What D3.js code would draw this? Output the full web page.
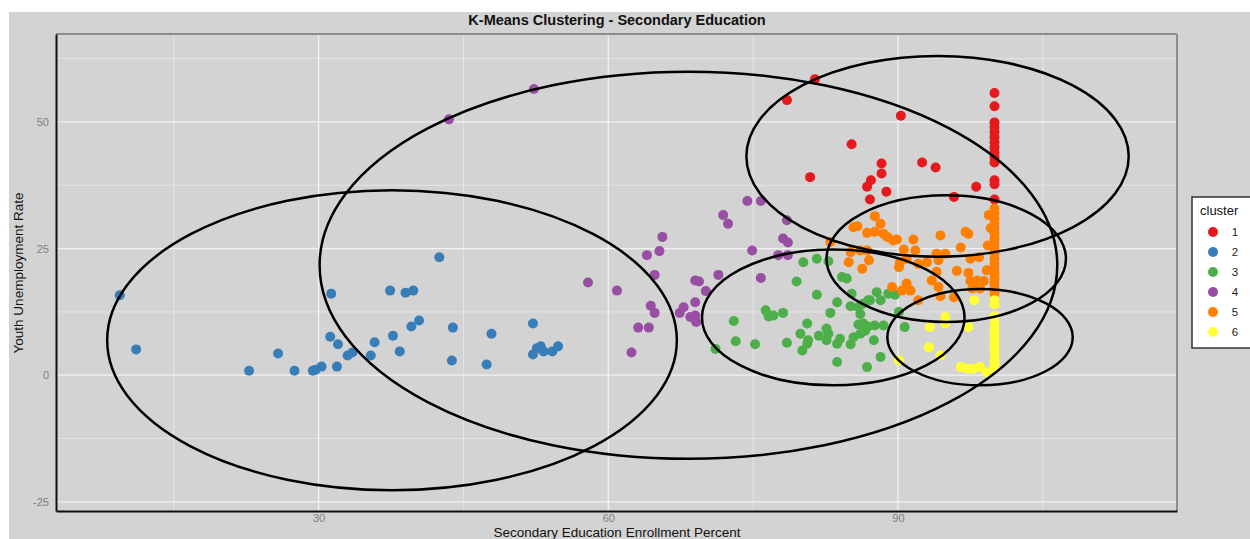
<!DOCTYPE html>
<html>
<head>
<meta charset="utf-8">
<script src="https://cdn.jsdelivr.net/npm/d3@7"></script>
<style>
  body { margin: 0; background: #ffffff; }
  svg { display: block; font-family: "Liberation Sans", Arial, sans-serif; }
</style>
</head>
<body>
<div id="graph"></div>
<script>
const width = 1250;
const height = 539;
const margin = { top: 34, right: 73, bottom: 28, left: 56 };
const innerW = width - margin.left - margin.right;
const innerH = height - margin.top - margin.bottom;

// cluster labels and points: [enrollment %, youth unemployment %]
const clusterNames = ["1", "2", "3", "4", "5", "6"];

const cluster1 = [
  [81.4, 58.4], [78.5, 54.3], [90.3, 51.2], [85.2, 45.6], [80.9, 39.1], [88.3, 41.8],
  [88.3, 39.8], [87.2, 38.5], [86.8, 37.2], [88.8, 36.2], [87.1, 34.7], [92.5, 42.0],
  [93.9, 41.0], [98.1, 37.2], [95.8, 35.2],
  [100, 55.7], [100, 53.1], [100, 49.9], [100, 48.9], [100, 48.0], [100, 47.0],
  [100, 46.0], [100, 45.0], [100, 44.0], [100, 43.0], [100, 42.0], [100, 38.5],
  [100, 37.7], [100, 34.7]
];

const cluster2 = [
  [9.4, 15.8], [11.1, 5.1], [22.8, 0.9], [25.8, 4.3], [27.5, 0.9], [29.4, 0.9],
  [29.7, 1.1], [30.3, 1.7], [31.3, 16.1], [31.2, 7.6], [32.0, 6.1], [31.9, 1.7],
  [33.0, 3.9], [33.5, 4.5], [35.4, 3.9], [35.8, 6.5], [37.4, 16.7], [37.7, 7.8],
  [38.4, 4.7], [39.0, 16.3], [39.8, 16.7], [39.6, 9.6], [40.4, 10.8], [42.5, 23.3],
  [43.9, 9.4], [43.8, 2.9], [47.9, 8.2], [47.4, 2.1], [52.2, 10.2], [52.2, 4.1],
  [53.0, 5.7], [53.3, 4.7], [54.2, 4.7], [54.8, 5.7], [52.6, 5.3]
];

const cluster3 = [
  [73.0, 10.7], [73.2, 6.7], [71.1, 5.2], [80.2, 22.3], [81.6, 23.0], [82.8, 22.5],
  [79.5, 18.5], [84.2, 19.4], [84.7, 19.1], [81.6, 15.9], [83.7, 14.4], [85.2, 16.1],
  [85.1, 13.6], [85.9, 13.4], [86.4, 14.1], [87.1, 14.8], [87.8, 16.4], [88.2, 14.8],
  [89.0, 16.1], [89.7, 15.9], [76.3, 12.8], [76.6, 11.6], [77.1, 11.8], [78.1, 12.3],
  [83.0, 12.3], [86.1, 12.1], [90.1, 12.5], [80.6, 10.2], [85.9, 10.0], [86.9, 9.6],
  [87.6, 9.8], [88.5, 9.8], [90.7, 9.5], [79.9, 8.2], [80.7, 6.9], [81.8, 7.8],
  [82.6, 9.2], [82.8, 8.2], [84.0, 7.2], [78.5, 6.4], [75.2, 6.1], [80.6, 6.2],
  [80.1, 4.9], [82.6, 6.9], [83.7, 6.2], [85.1, 6.1], [85.4, 7.5], [86.1, 8.2],
  [86.6, 8.8], [87.5, 6.9], [88.2, 3.6], [83.7, 2.6], [86.8, 1.6], [86.4, 10.2],
  [86.9, 14.8]
];

const cluster4 = [
  [43.5, 50.5], [52.3, 56.5], [57.9, 18.3], [60.9, 16.7], [65.6, 27.3], [65.3, 24.5],
  [64.0, 23.7], [64.8, 19.8], [69.0, 18.7], [69.4, 18.5], [70.1, 16.6], [71.4, 19.8],
  [71.9, 31.6], [72.4, 29.9], [74.4, 34.4], [64.4, 13.7], [64.8, 12.3], [67.8, 13.4],
  [67.4, 12.3], [69.0, 14.4], [68.5, 11.5], [69.0, 11.8], [69.1, 10.5], [63.1, 9.4],
  [64.2, 9.4], [62.4, 4.5], [74.9, 24.6], [75.8, 34.4], [78.5, 30.6], [78.1, 27.0],
  [78.6, 26.2], [77.6, 23.7], [78.6, 23.7], [75.8, 19.2]
];

const cluster5 = [
  [87.6, 31.4], [88.2, 29.9], [86.8, 28.1], [87.6, 28.3], [88.9, 27.3], [89.5, 26.6],
  [89.9, 26.8], [91.6, 26.8], [94.4, 27.6], [97.0, 28.3], [97.3, 27.9], [99.4, 31.6],
  [90.6, 24.8], [91.8, 24.6], [86.1, 24.6], [86.8, 24.6], [94.0, 24.0], [94.9, 24.0],
  [96.5, 25.2], [97.5, 23.0], [98.4, 23.3], [90.2, 22.3], [90.9, 23.0], [92.1, 22.0],
  [93.0, 22.3], [94.2, 22.7], [87.0, 22.7], [86.3, 21.0], [90.1, 21.3], [94.0, 20.4],
  [96.1, 20.6], [97.3, 20.2], [99.2, 20.7], [89.4, 17.4], [90.9, 18.1], [91.3, 16.7],
  [90.4, 16.7], [93.5, 18.7], [94.2, 17.4], [94.4, 15.6], [95.8, 15.4], [97.5, 18.6],
  [98.2, 18.7], [98.9, 18.6], [97.7, 17.1], [98.5, 17.1], [92.1, 14.8], [83.0, 26.3],
  [85.1, 24.3], [84.9, 22.3], [85.4, 29.2], [85.8, 29.4], [88.5, 27.9], [99.3, 25.6],
  [99.6, 29.0],
  [100, 32.9], [100, 31.9], [100, 31.0], [100, 30.0], [100, 29.0], [100, 28.0],
  [100, 27.0], [100, 26.0], [100, 25.0], [100, 24.0], [100, 23.0], [100, 22.0],
  [100, 21.1], [100, 20.1], [100, 19.1], [100, 18.1], [100, 17.1], [100, 16.1]
];

const cluster6 = [
  [97.9, 14.8], [94.9, 11.5], [94.9, 10.2], [93.3, 9.5], [97.3, 9.5], [93.2, 5.5],
  [94.4, 3.9], [90.1, 2.9], [96.5, 1.6], [97.2, 1.3], [97.8, 1.3], [98.5, 1.6],
  [99.2, 0.6],
  [100, 14.8], [100, 14.0], [100, 11.6], [100, 10.2], [100, 9.0], [100, 8.2],
  [100, 7.2], [100, 6.4], [100, 5.6], [100, 4.8], [100, 4.0], [100, 3.0],
  [100, 2.2], [100, 1.5]
];

const clusterPoints = [cluster1, cluster2, cluster3, cluster4, cluster5, cluster6];

// ellipse per cluster, in data units
const ellipseCenterX = [94.1, 37.6, 83.3, 68.3, 95.0, 98.5];
const ellipseCenterY = [43.2, 6.9, 11.4, 21.7, 23.0, 7.5];
const ellipseRadiusX = [19.8, 29.5, 13.6, 38.2, 12.4, 9.6];
const ellipseRadiusY = [19.8, 29.6, 13.4, 38.2, 12.5, 9.5];

const xTicks = [30, 60, 90];
const xMinor = [15, 45, 75, 105];
const yTicks = [-25, 0, 25, 50];
const yMinor = [-12.5, 12.5, 37.5, 62.5];

const svgRoot = d3.select("#graph")
  .append("svg")
  .attr("width", width)
  .attr("height", height);

// outer grey background
svgRoot.append("rect")
  .attr("x", 9)
  .attr("y", 12)
  .attr("width", width - 9)
  .attr("height", height - 12)
  .attr("fill", "#d3d3d3");

const x = d3.scaleLinear()
  .domain([2.8, 118.9])
  .range([0, innerW]);

const y = d3.scaleLinear()
  .domain([-26.8, 67.35])
  .range([innerH, 0]);

const color = d3.scaleOrdinal()
  .domain(clusterNames)
  .range(["#e41a1c", "#377eb8", "#4daf4a", "#984ea3", "#ff7f00", "#ffff33"]);

const graphSVG = svgRoot.append("g")
  .attr("transform", `translate(${margin.left}, ${margin.top})`);

// grid
graphSVG.append("g")
  .selectAll("line")
  .data(xMinor)
  .join("line")
  .attr("x1", d => x(d)).attr("x2", d => x(d))
  .attr("y1", 0).attr("y2", innerH)
  .attr("stroke", "#ececec").attr("stroke-width", 0.7);
graphSVG.append("g")
  .selectAll("line")
  .data(yMinor)
  .join("line")
  .attr("y1", d => y(d)).attr("y2", d => y(d))
  .attr("x1", 0).attr("x2", innerW)
  .attr("stroke", "#ececec").attr("stroke-width", 0.7);
graphSVG.append("g")
  .selectAll("line")
  .data(xTicks)
  .join("line")
  .attr("x1", d => x(d)).attr("x2", d => x(d))
  .attr("y1", 0).attr("y2", innerH)
  .attr("stroke", "#f2f2f2").attr("stroke-width", 1.3);
graphSVG.append("g")
  .selectAll("line")
  .data(yTicks)
  .join("line")
  .attr("y1", d => y(d)).attr("y2", d => y(d))
  .attr("x1", 0).attr("x2", innerW)
  .attr("stroke", "#f2f2f2").attr("stroke-width", 1.3);

// points
clusterPoints.forEach((pts, i) => {
  graphSVG.append("g")
    .selectAll("circle")
    .data(pts)
    .join("circle")
    .attr("cx", d => x(d[0]))
    .attr("cy", d => y(d[1]))
    .attr("r", 5)
    .attr("fill", color(clusterNames[i]));
});

// ellipses
graphSVG.append("g")
  .selectAll("ellipse")
  .data(clusterNames)
  .join("ellipse")
  .attr("cx", (d, i) => x(ellipseCenterX[i]))
  .attr("cy", (d, i) => y(ellipseCenterY[i]))
  .attr("rx", (d, i) => x(ellipseCenterX[i] + ellipseRadiusX[i]) - x(ellipseCenterX[i]))
  .attr("ry", (d, i) => y(ellipseCenterY[i]) - y(ellipseCenterY[i] + ellipseRadiusY[i]))
  .attr("fill", "none")
  .attr("stroke", "black")
  .attr("stroke-width", 2.5);

// panel border: grey top/right, black axis lines
graphSVG.append("line")
  .attr("x1", 0).attr("x2", innerW).attr("y1", 0).attr("y2", 0)
  .attr("stroke", "#8c8c8c").attr("stroke-width", 2);
graphSVG.append("line")
  .attr("x1", innerW).attr("x2", innerW).attr("y1", 0).attr("y2", innerH)
  .attr("stroke", "#8c8c8c").attr("stroke-width", 2);

const xAxis = d3.axisBottom(x).tickValues(xTicks).tickSize(0).tickPadding(3)
  .tickFormat(d => String(d));
const yAxis = d3.axisLeft(y).tickValues(yTicks).tickSize(0).tickPadding(7)
  .tickFormat(d => String(d));

const gx = graphSVG.append("g")
  .attr("transform", `translate(0, ${innerH})`)
  .call(xAxis);
const gy = graphSVG.append("g")
  .call(yAxis);

[gx, gy].forEach(g => {
  g.select(".domain").attr("stroke", "#111").attr("stroke-width", 2);
  g.selectAll("text")
    .attr("fill", "#7f7f7f")
    .style("font-size", "11px")
    .style("font-family", "Liberation Sans, Arial, sans-serif");
});

// title and axis labels
svgRoot.append("text")
  .attr("x", 617)
  .attr("y", 25)
  .attr("text-anchor", "middle")
  .style("font-size", "14.5px")
  .style("font-weight", "bold")
  .attr("fill", "#111")
  .text("K-Means Clustering - Secondary Education");

svgRoot.append("text")
  .attr("x", 617)
  .attr("y", 537)
  .attr("text-anchor", "middle")
  .style("font-size", "13.5px")
  .attr("fill", "#111")
  .text("Secondary Education Enrollment Percent");

svgRoot.append("text")
  .attr("transform", "translate(23, 273) rotate(-90)")
  .attr("text-anchor", "middle")
  .style("font-size", "13.5px")
  .attr("fill", "#111")
  .text("Youth Unemployment Rate");

// legend
const legend = svgRoot.append("g")
  .attr("transform", "translate(1192, 197)");
legend.append("rect")
  .attr("width", 80)
  .attr("height", 151)
  .attr("fill", "white")
  .attr("stroke", "#333")
  .attr("stroke-width", 1.5);
legend.append("text")
  .attr("x", 8)
  .attr("y", 18)
  .style("font-size", "13px")
  .attr("fill", "#111")
  .text("cluster");
const keys = legend.selectAll("g.key")
  .data(clusterNames)
  .join("g")
  .attr("class", "key")
  .attr("transform", (d, i) => `translate(0, ${35 + i * 20})`);
keys.append("circle")
  .attr("cx", 21)
  .attr("r", 5)
  .attr("fill", d => color(d));
keys.append("text")
  .attr("x", 43)
  .attr("dy", "0.35em")
  .attr("text-anchor", "middle")
  .style("font-size", "11.5px")
  .attr("fill", "#222")
  .text(d => d);
</script>
</body>
</html>
